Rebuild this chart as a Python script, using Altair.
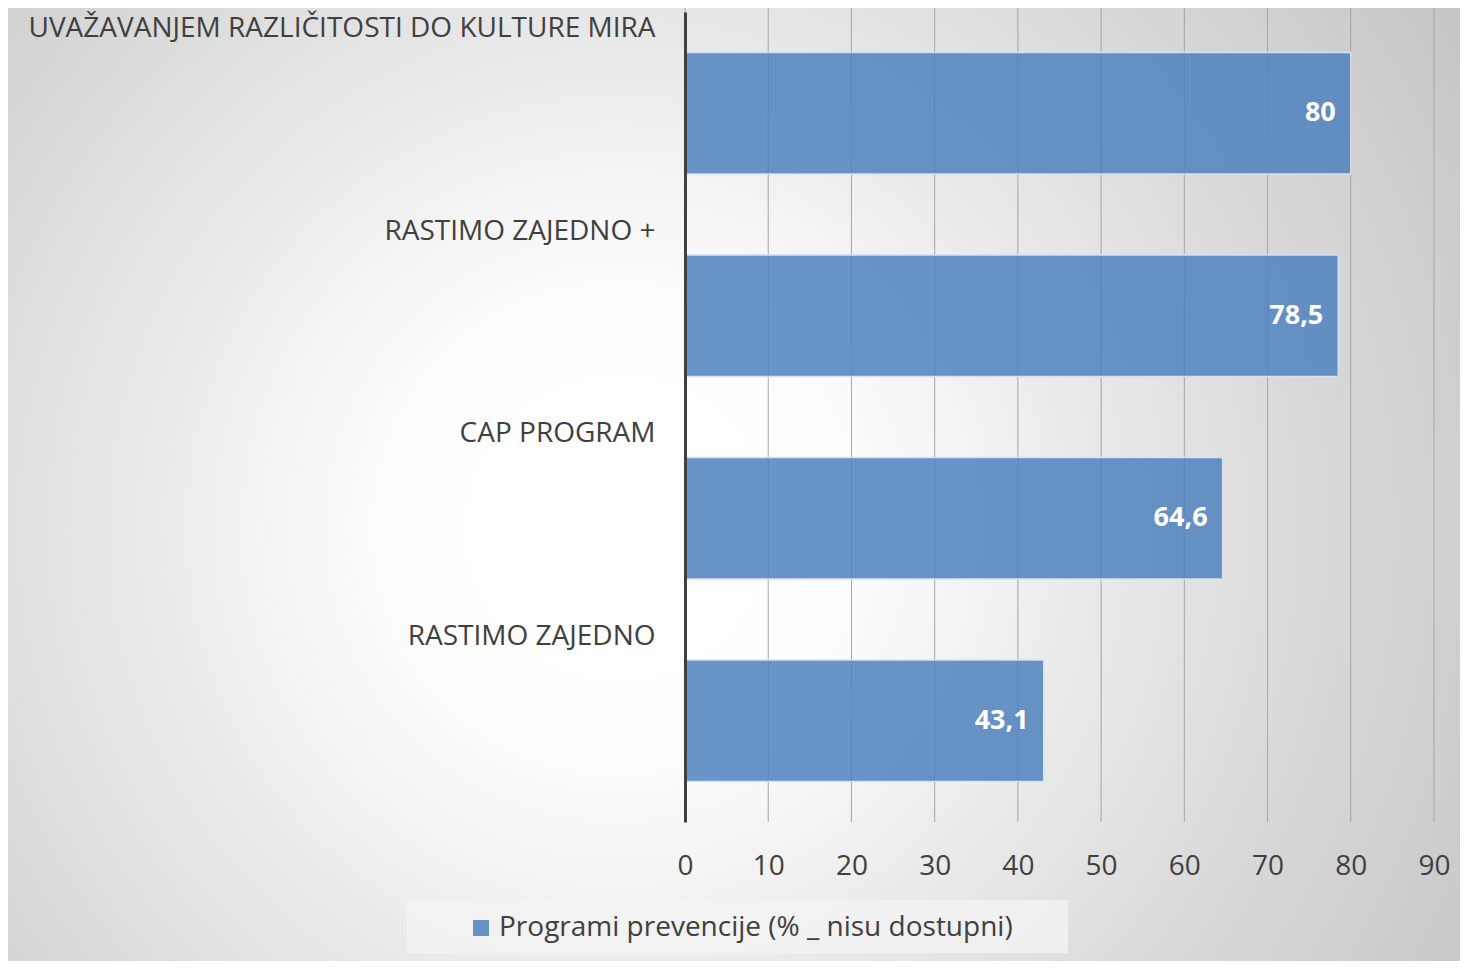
import altair as alt
import pandas as pd

categories = ["UVAŽAVANJEM RAZLIČITOSTI DO KULTURE MIRA", "RASTIMO ZAJEDNO +", "CAP PROGRAM", "RASTIMO ZAJEDNO"]
values = [80, 78.5, 64.6, 43.1]
series_name = "Programi prevencije (% _ nisu dostupni)"
x_ticks = [0, 10, 20, 30, 40, 50, 60, 70, 80, 90]

df = pd.DataFrame({"program": categories, "value": values, "series": [series_name] * len(categories)})
ticks_df = pd.DataFrame({"value": x_ticks})

FONT = "Open Sans"
FS = 28
PT = 4
W, H = 749, 814 - PT
PL, PR, PB = 677, 26, 139

x_scale = alt.Scale(domain=[0, 90], nice=False)
x_axis = alt.Axis(
    title=None, values=x_ticks, domain=False, ticks=False, grid=False,
    labelFontSize=FS, labelColor="#404040",
    labelFont=FONT, labelPadding=30, labelFlush=False, zindex=2,
)

bg = alt.Chart(alt.Data(values=[{"k": 1}])).mark_rect(
    fill={
        "gradient": "radial",
        "x1": 0.42, "y1": 0.53, "r1": 0,
        "x2": 0.42, "y2": 0.53, "r2": 0.7,
        "stops": [
            {"offset": 0, "color": "#ffffff"},
            {"offset": 0.22, "color": "#fefefe"},
            {"offset": 0.45, "color": "#ebebeb"},
            {"offset": 0.7, "color": "#d8d8d8"},
            {"offset": 1, "color": "#c4c4c4"},
        ],
    }
).encode(x=alt.value(-PL), x2=alt.value(W + PR), y=alt.value(-PT), y2=alt.value(H + PB))

legend_box = alt.Chart(alt.Data(values=[{"k": 1}])).mark_rect(fill="#f2f2f2", opacity=0.8).encode(
    x=alt.value(-278), x2=alt.value(383), y=alt.value(892 - PT), y2=alt.value(945 - PT)
)

grid = alt.Chart(ticks_df).mark_rule(color="#a6a6a6", strokeWidth=1).encode(
    x=alt.X("value:Q", scale=x_scale, axis=x_axis),
    y=alt.value(-PT), y2=alt.value(H),
)

y_enc = alt.Y(
    "program:N",
    sort=categories,
    scale=alt.Scale(paddingInner=0.4, paddingOuter=0.2),
    axis=alt.Axis(
        title=None, domain=True, domainColor="#404040", domainWidth=3, ticks=False,
        labelFontSize=FS, labelColor="#404040", labelFont=FONT, labelPadding=30,
        labelOffset=-84, labelLimit=1000, grid=False, labelAlign="right", zindex=2,
    ),
)

bars = alt.Chart(df).mark_bar(
    fillOpacity=0.85, stroke="#d6e0ef", strokeWidth=1.5
).encode(
    y=y_enc,
    x=alt.X("value:Q", scale=x_scale, axis=x_axis),
    color=alt.Color(
        "series:N",
        scale=alt.Scale(domain=[series_name], range=["#4f81bd"]),
        legend=alt.Legend(
            title=None, orient="none", legendX=-218, legendY=906 - PT, symbolType="square",
            symbolSize=256, symbolOpacity=0.85, symbolStrokeWidth=0, labelFontSize=FS,
            labelFont=FONT, labelColor="#404040", labelOffset=4, padding=0, labelLimit=1000,
        ),
    ),
)

labels = alt.Chart(df).transform_calculate(
    label="replace(toString(datum.value), '.', ',')"
).mark_text(
    align="right", baseline="middle", dx=-15, color="white", fontWeight="bold", fontSize=27, font=FONT
).encode(
    y=alt.Y("program:N", sort=categories),
    x=alt.X("value:Q", scale=x_scale),
    text="label:N",
)

chart = alt.layer(bg, legend_box, grid, bars, labels).properties(
    width=W, height=H,
    autosize=alt.AutoSizeParams(type="none"),
    padding={"left": PL, "top": PT, "right": PR, "bottom": PB},
).configure_view(stroke=None).configure(background="#ffffff")

chart.save("out.html", embed_options={"renderer": "svg", "actions": False})
